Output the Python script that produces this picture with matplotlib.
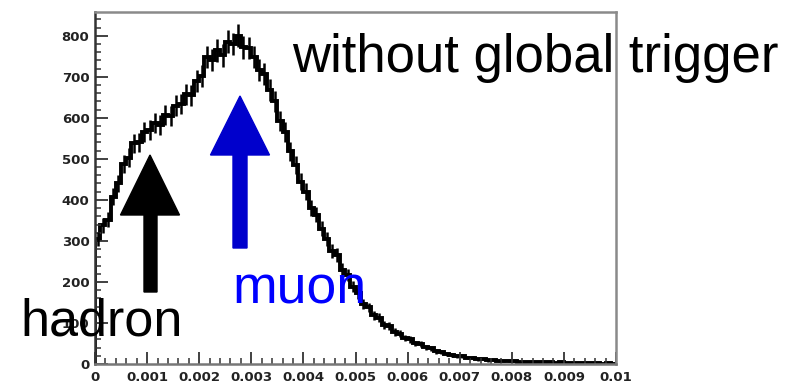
import matplotlib
matplotlib.use('Agg')
import numpy as np
import matplotlib.pyplot as plt
import matplotlib.patches as mpatches

# histogram: 100 bins over 0..0.01, counts
bin_edges = np.linspace(0.0, 0.01, 101)
counts = [305, 338, 352, 408, 440, 488, 503, 538, 541, 566,
          570, 588, 582, 606, 604, 630, 634, 658, 655, 690,
          702, 748, 741, 765, 752, 786, 780, 800, 772, 770,
          748, 716, 706, 668, 640, 592, 565, 518, 486, 444,
          420, 380, 364, 330, 305, 276, 266, 230, 216, 188,
          172, 147, 138, 119, 113, 96, 92, 78, 74, 63,
          60, 50, 48, 41, 38, 31, 29, 24, 23, 19,
          19, 15, 15, 11, 12, 9, 10, 7, 8, 7,
          7, 6, 6, 5, 5, 4, 5, 4, 3, 4,
          3, 3, 2, 3, 2, 2, 2, 1, 2, 1]

x_ticks = [0, 0.001, 0.002, 0.003, 0.004, 0.005, 0.006, 0.007, 0.008, 0.009, 0.01]
x_tick_labels = ['0', '0.001', '0.002', '0.003', '0.004', '0.005',
                 '0.006', '0.007', '0.008', '0.009', '0.01']
y_ticks = [0, 100, 200, 300, 400, 500, 600, 700, 800]

W, H = 802, 386
fig = plt.figure(figsize=(W / 100, H / 100), dpi=100)
fig.patch.set_facecolor('white')

def fx(px):
    return px / W

def fy(py):
    return 1 - py / H

ax = fig.add_axes([fx(95), fy(364), fx(616) - fx(95), fy(12) - fy(364)])

counts = np.array(counts, dtype=float)
centers = 0.5 * (bin_edges[:-1] + bin_edges[1:])
ax.stairs(counts, bin_edges, color='black', lw=2.8)
ax.errorbar(centers, counts, yerr=np.sqrt(counts), fmt='none',
            ecolor='black', elinewidth=1.8)

ax.set_xlim(0, 0.01)
ax.set_ylim(0, 858)
ax.set_xticks(x_ticks)
ax.set_xticklabels(x_tick_labels)
ax.set_yticks(y_ticks)
ax.set_xticks(np.arange(0, 0.01001, 0.0002), minor=True)
ax.set_yticks(np.arange(0, 858, 20), minor=True)

ax.tick_params(axis='both', which='major', direction='in', length=9,
               width=1.3, color='#333333')
ax.tick_params(axis='both', which='minor', direction='in', length=4.5,
               width=1.1, color='#333333')
ax.tick_params(axis='y', pad=4)
ax.tick_params(axis='x', pad=5)
for lab in ax.get_xticklabels() + ax.get_yticklabels():
    lab.set_fontfamily('DejaVu Sans')
    lab.set_fontweight('bold')
    lab.set_fontsize(9.5)
    lab.set_color('#222222')

ax.spines['left'].set_color('#333333')
ax.spines['bottom'].set_color('#777777')
ax.spines['top'].set_color('#8a8a8a')
ax.spines['right'].set_color('#8a8a8a')
for s in ax.spines.values():
    s.set_linewidth(1.8)

# annotation arrows (figure pixel positions)
def arrow(apex_x, apex_y, base_y, half_head, shaft_l, shaft_r, bottom, color):
    pts = [(apex_x, apex_y), (apex_x + half_head, base_y), (shaft_r, base_y),
           (shaft_r, bottom), (shaft_l, bottom), (shaft_l, base_y),
           (apex_x - half_head, base_y)]
    pts = [(fx(a), fy(b)) for a, b in pts]
    fig.patches.append(mpatches.Polygon(pts, closed=True, color=color,
                                        transform=fig.transFigure, zorder=5))

arrow(150, 155, 215, 29.5, 144, 157, 292, 'black')
arrow(240, 96, 155, 29.5, 233, 247, 248, '#0000cc')

fig.text(fx(292), fy(72), 'without global trigger', fontsize=38,
         family='Liberation Sans', color='black', va='baseline', ha='left')
fig.text(fx(20), fy(335), 'hadron', fontsize=37.5,
         family='Liberation Sans', color='black', va='baseline', ha='left')
fig.text(fx(232), fy(303), 'muon', fontsize=38.5,
         family='Liberation Sans', color='#0000ff', va='baseline', ha='left')

fig.savefig('out.png', dpi=100, facecolor='white')
